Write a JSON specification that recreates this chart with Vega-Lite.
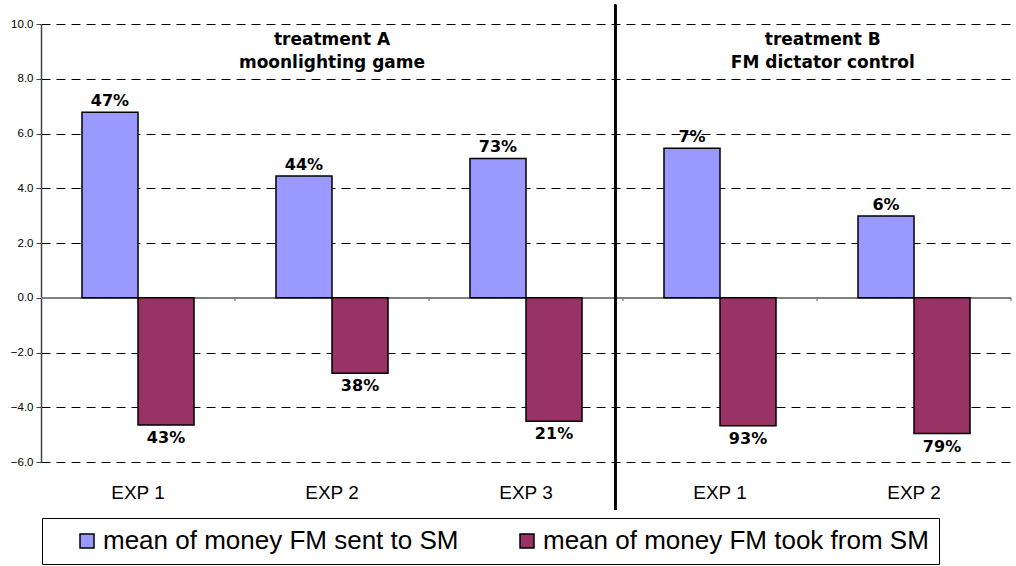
{
  "$schema": "https://vega.github.io/schema/vega-lite/v6.json",
  "width": 970,
  "height": 438,
  "autosize": {"type": "none"},
  "padding": {"left": 41, "top": 24, "right": 5, "bottom": 104},
  "background": "white",
  "config": {"view": {"stroke": null}},
  "datasets": {
    "bars": [
      {"cat": "A|EXP 1", "series": "mean of money FM sent to SM", "value": 6.78, "label": "47%"},
      {"cat": "A|EXP 1", "series": "mean of money FM took from SM", "value": -4.65, "label": "43%"},
      {"cat": "A|EXP 2", "series": "mean of money FM sent to SM", "value": 4.45, "label": "44%"},
      {"cat": "A|EXP 2", "series": "mean of money FM took from SM", "value": -2.76, "label": "38%"},
      {"cat": "A|EXP 3", "series": "mean of money FM sent to SM", "value": 5.09, "label": "73%"},
      {"cat": "A|EXP 3", "series": "mean of money FM took from SM", "value": -4.51, "label": "21%"},
      {"cat": "B|EXP 1", "series": "mean of money FM sent to SM", "value": 5.46, "label": "7%"},
      {"cat": "B|EXP 1", "series": "mean of money FM took from SM", "value": -4.68, "label": "93%"},
      {"cat": "B|EXP 2", "series": "mean of money FM sent to SM", "value": 2.99, "label": "6%"},
      {"cat": "B|EXP 2", "series": "mean of money FM took from SM", "value": -4.96, "label": "79%"}
    ],
    "titles": [
      {"group": "A", "cat": "A|EXP 2", "title": "treatment A\nmoonlighting game"},
      {"group": "B", "cat": "B|EXP 2", "title": "treatment B\nFM dictator control"}
    ]
  },
  "layer": [
    {
      "data": {"name": "bars"},
      "mark": {"type": "rule", "color": "#808080", "strokeWidth": 1.5},
      "encoding": {"y": {"datum": 0, "type": "quantitative", "scale": {"domain": [-6, 10], "nice": false, "zero": false},
        "axis": {
          "title": null, "values": [-6, -4, -2, 0, 2, 4, 6, 8, 10], "format": ".1f",
          "grid": true, "gridDash": [9, 6], "gridColor": "#000", "gridOpacity": 1, "gridWidth": 1,
          "domainColor": "#444", "domainWidth": 1.5, "tickColor": "#444", "tickSize": 5, "tickWidth": 1,
          "labelFont": "Liberation Sans", "labelFontSize": 11.5, "labelColor": "#000", "labelPadding": 3
        }}}
    },
    {
      "data": {"name": "bars"},
      "mark": {"type": "rule", "color": "#808080", "strokeWidth": 1},
      "encoding": {
        "x": {
          "field": "cat", "type": "nominal", "bandPosition": 1,
          "scale": {"domain": ["A|EXP 1", "A|EXP 2", "A|EXP 3", "B|EXP 1", "B|EXP 2"], "paddingInner": 0, "paddingOuter": 0},
          "axis": {
            "title": null, "labelAngle": 0, "domain": false, "ticks": false, "grid": false,
            "labelExpr": "split(datum.value, '|')[1]",
            "labelFont": "Liberation Sans", "labelFontSize": 19, "labelColor": "#000", "labelPadding": 21
          }
        },
        "y": {"datum": 0},
        "y2": {"datum": -0.11}
      }
    },
    {
      "data": {"name": "bars"},
      "mark": {"type": "bar", "stroke": "#000", "strokeWidth": 1.5},
      "encoding": {
        "x": {"field": "cat", "type": "nominal"},
        "y": {"field": "value", "type": "quantitative"},
        "xOffset": {
          "field": "series", "type": "nominal",
          "scale": {"domain": ["mean of money FM sent to SM", "mean of money FM took from SM"], "paddingInner": 0, "paddingOuter": 0.732}
        },
        "color": {
          "field": "series", "type": "nominal",
          "scale": {"domain": ["mean of money FM sent to SM", "mean of money FM took from SM"], "range": ["#9999FF", "#993366"]},
          "legend": {
            "orient": "none", "legendX": 1, "legendY": 494, "direction": "horizontal",
            "title": " ", "titleOrient": "left", "titleFontSize": 1, "titlePadding": 22,
            "padding": 10, "strokeColor": "#000",
            "symbolType": "square", "symbolSize": 196, "symbolStrokeColor": "#000", "symbolStrokeWidth": 1.5, "symbolOpacity": 1,
            "labelFont": "Liberation Sans", "labelFontSize": 26, "labelColor": "#000", "labelOffset": 3, "labelLimit": 1000,
            "columnPadding": 55
          }
        }
      }
    },
    {
      "data": {"name": "bars"},
      "transform": [{"filter": "datum.series === 'mean of money FM sent to SM'"}],
      "mark": {"type": "text", "font": "DejaVu Sans", "fontWeight": "bold", "fontSize": 16, "baseline": "alphabetic", "dy": -6, "color": "#000"},
      "encoding": {
        "x": {"field": "cat", "type": "nominal"},
        "y": {"field": "value", "type": "quantitative"},
        "xOffset": {"field": "series", "type": "nominal"},
        "text": {"field": "label", "type": "nominal"}
      }
    },
    {
      "data": {"name": "bars"},
      "transform": [{"filter": "datum.series === 'mean of money FM took from SM'"}],
      "mark": {"type": "text", "font": "DejaVu Sans", "fontWeight": "bold", "fontSize": 16, "baseline": "top", "dy": 5, "color": "#000"},
      "encoding": {
        "x": {"field": "cat", "type": "nominal"},
        "y": {"field": "value", "type": "quantitative"},
        "xOffset": {"field": "series", "type": "nominal"},
        "text": {"field": "label", "type": "nominal"}
      }
    },
    {
      "data": {"name": "bars"},
      "mark": {"type": "rule", "color": "#000", "strokeWidth": 2},
      "encoding": {
        "x": {"datum": "B|EXP 1", "bandPosition": -0.04},
        "y": {"datum": 10.7},
        "y2": {"datum": -7.75}
      }
    },
    {
      "data": {"name": "titles"},
      "transform": [{"filter": "datum.group === 'A'"}],
      "mark": {"type": "text", "font": "DejaVu Sans", "fontWeight": "bold", "fontSize": 17, "baseline": "alphabetic", "lineBreak": "\n", "lineHeight": 23, "color": "#000"},
      "encoding": {
        "x": {"field": "cat", "type": "nominal"},
        "y": {"datum": 9.24},
        "text": {"field": "title", "type": "nominal"}
      }
    },
    {
      "data": {"name": "titles"},
      "transform": [{"filter": "datum.group === 'B'"}],
      "mark": {"type": "text", "font": "DejaVu Sans", "fontWeight": "bold", "fontSize": 17, "baseline": "alphabetic", "lineBreak": "\n", "lineHeight": 23, "color": "#000"},
      "encoding": {
        "x": {"field": "cat", "type": "nominal", "bandPosition": 0.03},
        "y": {"datum": 9.24},
        "text": {"field": "title", "type": "nominal"}
      }
    }
  ]
}
